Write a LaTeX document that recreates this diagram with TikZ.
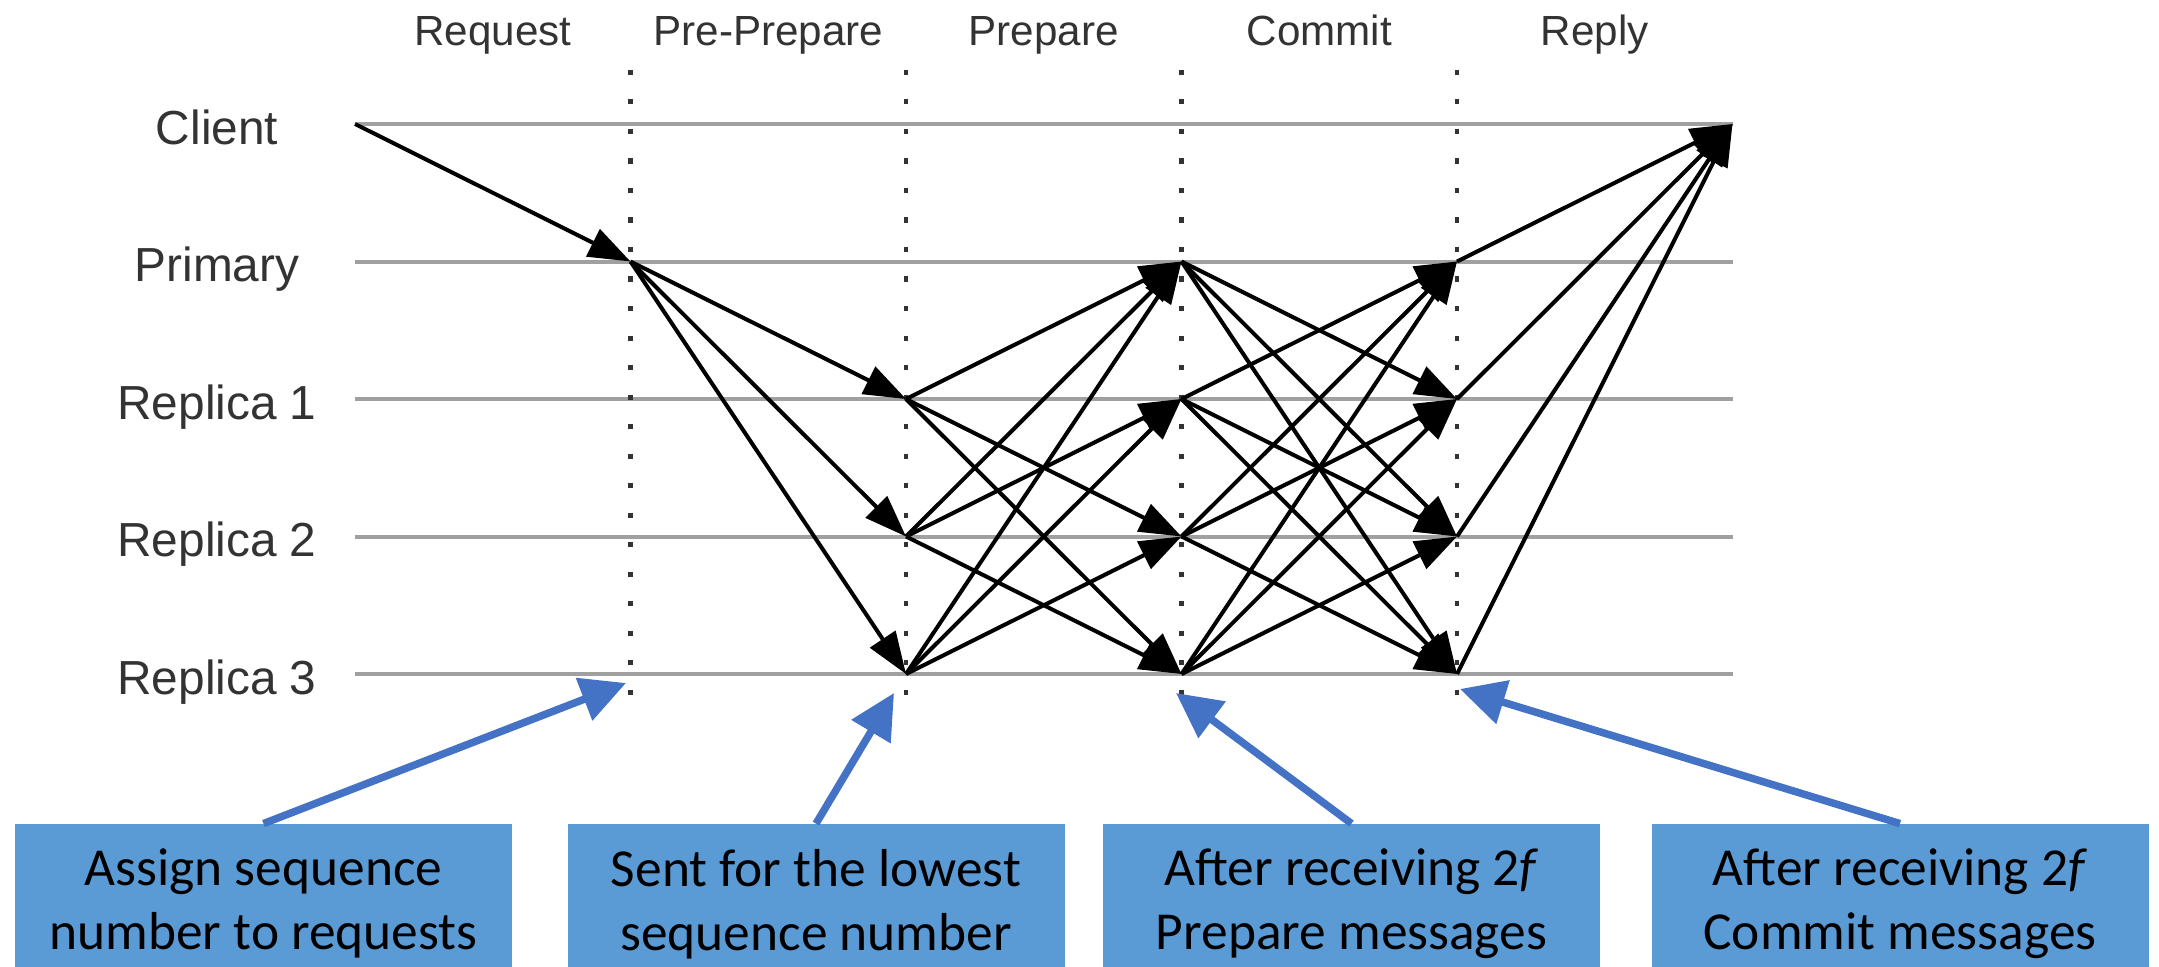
\documentclass[tikz,border=0pt]{standalone}
\usepackage{fontspec}
\setmainfont{Liberation Sans}
\newfontfamily\boxfont{Carlito}
\usetikzlibrary{arrows.meta}
\definecolor{PBBox}{HTML}{5B9BD5}
\definecolor{PBArrow}{HTML}{4472C4}
\definecolor{PBLine}{HTML}{A0A0A0}
\definecolor{PBText}{HTML}{333333}

\tikzset{
  lane/.style={PBLine, line width=0.04cm},
  phaseline/.style={PBText, line width=0.045cm, dash pattern=on 0.05cm off 0.245cm},
  msg/.style={line width=0.04cm, -{Triangle[length=0.42cm,width=0.3cm]}},
  phase/.style={PBText, anchor=base, font=\fontsize{12pt}{14pt}\selectfont},
  role/.style={PBText, anchor=base, font=\fontsize{13.6pt}{16pt}\selectfont},
  note/.style={fill=PBBox, minimum width=4.97cm, minimum height=1.59cm, inner sep=0pt,
    align=center, anchor=south, font=\boxfont\fontsize{15.2pt}{18.2pt}\selectfont},
  pointer/.style={PBArrow, line width=0.075cm, -{Triangle[length=0.45cm,width=0.44cm]}}
}

\begin{document}
\begin{tikzpicture}[x=1cm,y=1cm]
\path[use as bounding box] (0,0) rectangle (21.59,9.66);
% lanes and row labels
\foreach \lab [count=\i from 0] in {Client,Primary,Replica 1,Replica 2,Replica 3} {
  \foreach \c in {0,...,5}
    \coordinate (n\i-\c) at ({3.55+2.755*\c},{8.42-1.375*\i});
  \draw[lane] (n\i-0) -- (n\i-5);
  \node[role] (role\i) at (2.17,{8.22-1.375*\i}) {\lab};
}
% phase separators
\foreach \c in {1,...,4}
  \draw[phaseline] ({3.55+2.755*\c},8.96) -- ({3.55+2.755*\c},2.51);
\foreach \ph [count=\k from 0] in {Request,Pre-Prepare,Prepare,Commit,Reply}
  \node[phase] (phase\k) at ({3.55+2.755*(\k+0.5)},9.2) {\ph};
% messages
\draw[msg] (n0-0) -- (n1-1);
\foreach \j in {2,3,4}
  \draw[msg] (n1-1) -- (n\j-2);
\foreach \i in {2,3,4}
  \foreach \j in {1,...,4} {
    \ifnum\i=\j\else \draw[msg] (n\i-2) -- (n\j-3); \fi
  }
\foreach \i in {1,...,4}
  \foreach \j in {1,...,4} {
    \ifnum\i=\j\else \draw[msg] (n\i-3) -- (n\j-4); \fi
  }
\foreach \i in {1,...,4}
  \draw[msg] (n\i-4) -- (n0-5);
% notes
\node[note] (noteseq) at (2.635,-0.18) {Assign sequence\\number to requests};
\node[note] (notelow) at (8.16,-0.18) {Sent for the lowest\\sequence number};
\node[note] (noteprep) at (13.515,-0.18) {After receiving 2\textit{f}\\Prepare messages};
\node[note] (notecom) at (19.0,-0.18) {After receiving 2\textit{f}\\Commit messages};
\coordinate (tipseq) at (6.26,2.83);
\coordinate (tiplow) at (8.94,2.73);
\coordinate (tipprep) at (11.76,2.73);
\coordinate (tipcom) at (14.60,2.77);
\draw[pointer] (noteseq.north) -- (tipseq);
\draw[pointer] (notelow.north) -- (tiplow);
\draw[pointer] (noteprep.north) -- (tipprep);
\draw[pointer] (notecom.north) -- (tipcom);
\end{tikzpicture}
\end{document}
